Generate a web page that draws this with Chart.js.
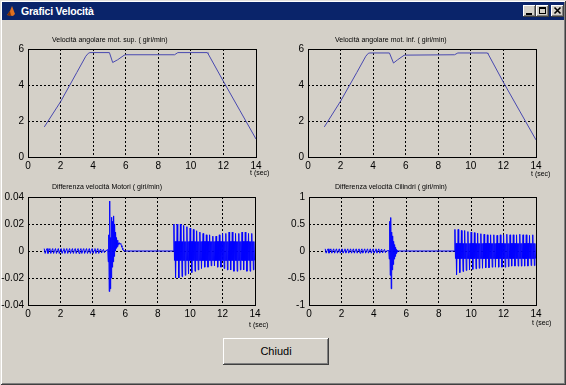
<!DOCTYPE html>
<html>
<head>
<meta charset="utf-8">
<script src="https://cdn.jsdelivr.net/npm/chart.js@4.4.1/dist/chart.umd.min.js"></script>
<style>
html, body { margin: 0; padding: 0; }
body { width: 566px; height: 385px; background: #d4d0c8; position: relative; overflow: hidden;
       font-family: "Liberation Sans", Arial, sans-serif; }
.frame { position: absolute; left: 0; top: 0; width: 566px; height: 385px; box-sizing: border-box;
         box-shadow: inset 1px 1px #e4e1dc, inset -1px -1px #404040, inset 2px 2px #fff, inset -2px -2px #808080; }
.titlebar { position: absolute; left: 2px; top: 2px; width: 562px; height: 18px; background: #0a246a; }
.ttext { position: absolute; left: 19px; top: 2px; color: #fff; font-weight: bold; font-size: 10.5px; line-height: 14px; letter-spacing: -0.2px; }
.icon { position: absolute; left: 4px; top: 3px; width: 10px; height: 12px; }
.tb { position: absolute; top: 3px; width: 13px; height: 12px; background: #d4d0c8;
      box-shadow: inset -1px -1px #404040, inset 1px 1px #fff, inset -2px -2px #808080; }
.tb svg { position: absolute; left: 0; top: 0; }
canvas { position: absolute; }
.lab { position: absolute; font-size: 7px; line-height: 8px; color: #000; white-space: nowrap; }
.btn { position: absolute; left: 223px; top: 338px; width: 106px; height: 27px; background: #d4d0c8;
       box-shadow: inset -1px -1px #404040, inset 1px 1px #fff, inset -2px -2px #808080;
       font-size: 11px; line-height: 27px; text-align: center; color: #000; }
</style>
</head>
<body>
<div class="frame"></div>
<div class="titlebar">
  <svg class="icon" viewBox="0 0 10 12"><path d="M1 10 L4 6 L6 1 L9 9 L7 11 Z" fill="#e07020"/><path d="M1 10 L4 6 L5 11 Z" fill="#803000"/></svg>
  <div class="ttext">Grafici Velocità</div>
  <div class="tb" style="left:521px"><svg width="13" height="12"><rect x="3" y="8" width="6" height="2" fill="#000"/></svg></div>
  <div class="tb" style="left:534px"><svg width="13" height="12"><rect x="3.5" y="2.5" width="6" height="6" fill="none" stroke="#000"/><rect x="3" y="2" width="7" height="2" fill="#000"/></svg></div>
  <div class="tb" style="left:549px"><svg width="13" height="12"><path d="M3.5 2.5 L9.5 8.5 M9.5 2.5 L3.5 8.5" stroke="#000" stroke-width="1.6"/></svg></div>
</div>

<canvas id="supChart" width="283" height="150" style="left:0;top:30px"></canvas>
<canvas id="infChart" width="283" height="150" style="left:283px;top:30px"></canvas>
<canvas id="motoriChart" width="283" height="150" style="left:0;top:180px"></canvas>
<canvas id="cilindriChart" width="283" height="150" style="left:283px;top:180px"></canvas>

<div class="lab" style="left:52px;top:36px">Velocità angolare mot. sup. ( giri/min)</div>
<div class="lab" style="left:335px;top:36px">Velocità angolare mot. inf. ( giri/min)</div>
<div class="lab" style="left:52px;top:183px">Differenza velocità Motori ( giri/min)</div>
<div class="lab" style="left:335px;top:183px">Differenza velocità Cilindri ( giri/min)</div>
<div class="lab" style="left:250px;top:169px">t (sec)</div>
<div class="lab" style="left:531px;top:170px">t (sec)</div>
<div class="lab" style="left:249px;top:321px">t (sec)</div>
<div class="lab" style="left:532px;top:319px">t (sec)</div>

<div class="btn">Chiudi</div>

<script>
// velocità angolare motore superiore
const supT = [1.0, 2.0, 3.0, 3.55, 3.7, 3.8, 5.0, 5.2, 5.5, 5.9, 6.0, 9.0, 9.2, 10.0, 11.0, 11.05, 12.0, 13.0, 14.0];
const supV = [1.67, 3.07, 4.7, 5.6, 5.76, 5.8, 5.8, 5.25, 5.4, 5.65, 5.68, 5.68, 5.8, 5.8, 5.8, 5.75, 4.2, 2.6, 1.0];

// velocità angolare motore inferiore
const infT = [1.0, 2.0, 3.0, 3.55, 3.7, 3.8, 5.0, 5.25, 5.5, 5.9, 6.0, 9.0, 9.2, 10.0, 11.0, 11.05, 12.0, 13.0, 14.0];
const infV = [1.67, 3.1, 4.7, 5.6, 5.76, 5.78, 5.78, 5.22, 5.4, 5.65, 5.66, 5.68, 5.78, 5.78, 5.78, 5.74, 4.15, 2.55, 0.95];

// differenza velocità motori: campioni a passo costante per tratti
const motoriQuietT0 = 1.0, motoriQuietDt = 0.058;
const motoriQuiet = [
  0.0018, -0.0018, 0.0003, 0.0018, -0.0018, 0.0003, 0.0018, -0.0018, 0.0003, 0.0018, -0.0018, 0.0003,
  0.0018, -0.0018, 0.0003, 0.0018, -0.0018, 0.0003, 0.0018, -0.0018, 0.0003, 0.0018, -0.0018, 0.0003,
  0.0018, -0.0018, 0.0003, 0.0018, -0.0018, 0.0003, 0.0018, -0.0018, 0.0003, 0.0018, -0.0018, 0.0003,
  0.0018, -0.0018, 0.0003, 0.0018, -0.0018, 0.0003, 0.0018, -0.0018, 0.0003, 0.0018, -0.0018, 0.0003,
  0.0018, -0.0018, 0.0003, 0.0018, -0.0018, 0.0003, 0.0018, -0.0018, 0.0003, 0.0018, -0.0018, 0.0003,
  0.0015, -0.0015, 0.0003, 0.0012, -0.0012, 0.0
];
const motoriSpikeT0 = 4.92, motoriSpikeDt = 0.03;
const motoriSpike = [
  0.001, -0.008, 0.012, -0.030, 0.037, -0.028, 0.010, -0.020, 0.025, -0.012,
  0.022, -0.008, 0.026, -0.004, 0.020, 0.000, 0.014, 0.002, 0.010, 0.003,
  0.008, 0.004, 0.006, 0.005, 0.006, 0.006, 0.0055, 0.005, 0.004, 0.003,
  0.002, 0.001, 0.0005, 0.0
];
const motoriFlatT = [6.0, 9.0];
const motoriFlat = [0.0, 0.0];
const motoriOscT0 = 9.0, motoriOscDt = 0.2 / 6;
const motoriPeak = [0.020, 0.020, 0.020, 0.019, 0.018, 0.017, 0.016, 0.015, 0.014, 0.013, 0.012, 0.012, 0.011,
                    0.011, 0.012, 0.013, 0.013, 0.014, 0.014, 0.013, 0.013, 0.014, 0.014, 0.013, 0.013];
const motoriTrough = [0.020, 0.020, 0.019, 0.018, 0.017, 0.016, 0.015, 0.014, 0.013, 0.012, 0.012, 0.011, 0.011,
                      0.012, 0.012, 0.013, 0.014, 0.014, 0.015, 0.015, 0.014, 0.014, 0.015, 0.015, 0.014];
const motoriCore = 0.007;

// differenza velocità cilindri
const cilindriQuietT0 = 1.0, cilindriQuietDt = 0.058;
const cilindriQuiet = [
  0.04, -0.04, 0.005, 0.04, -0.04, 0.005, 0.04, -0.04, 0.005, 0.04, -0.04, 0.005,
  0.04, -0.04, 0.005, 0.04, -0.04, 0.005, 0.04, -0.04, 0.005, 0.04, -0.04, 0.005,
  0.04, -0.04, 0.005, 0.04, -0.04, 0.005, 0.04, -0.04, 0.005, 0.04, -0.04, 0.005,
  0.04, -0.04, 0.005, 0.04, -0.04, 0.005, 0.04, -0.04, 0.005, 0.04, -0.04, 0.005,
  0.04, -0.04, 0.005, 0.04, -0.04, 0.005, 0.04, -0.04, 0.005, 0.04, -0.04, 0.005,
  0.035, -0.035, 0.005, 0.03, -0.03, 0.0
];
const cilindriSpikeT0 = 4.92, cilindriSpikeDt = 0.03;
const cilindriSpike = [
  0.01, -0.15, 0.55, -0.45, 0.62, -0.70, 0.35, -0.35, 0.28, -0.25,
  0.18, -0.15, 0.12, -0.10, 0.07, -0.05, 0.03, -0.02, 0.01, 0.0
];
const cilindriFlatT = [5.5, 9.0];
const cilindriFlat = [0.0, 0.0];
const cilindriOscT0 = 9.0, cilindriOscDt = 0.2 / 6;
const cilindriPeak = [0.40, 0.40, 0.38, 0.38, 0.36, 0.35, 0.34, 0.33, 0.32, 0.31, 0.30, 0.30, 0.30,
                      0.29, 0.30, 0.30, 0.31, 0.30, 0.30, 0.30, 0.31, 0.30, 0.30, 0.29, 0.30];
const cilindriTrough = [0.44, 0.40, 0.38, 0.36, 0.35, 0.34, 0.33, 0.32, 0.32, 0.31, 0.31, 0.30, 0.30,
                        0.30, 0.30, 0.30, 0.29, 0.28, 0.28, 0.28, 0.28, 0.28, 0.28, 0.27, 0.27];
const cilindriCore = 0.14;

const xTicks = [0, 2, 4, 6, 8, 10, 12, 14];

function pairs(ts, vs) {
    return vs.map((v, i) => ({ x: ts[i], y: v }));
}
function sampled(t0, dt, vs) {
    return vs.map((v, i) => ({ x: t0 + i * dt, y: v }));
}
// ogni ciclo: picco, nucleo, valle, nucleo
function oscillation(t0, dt, peaks, troughs, core) {
    const vals = [];
    peaks.forEach((p, i) => { vals.push(p, -core, core, -troughs[i], core, -core); });
    return sampled(t0, dt, vals);
}

const boxPlugin = {
    id: 'box',
    afterDraw(chart) {
        const a = chart.chartArea, c = chart.ctx;
        c.save();
        c.strokeStyle = '#000';
        c.lineWidth = 1;
        c.strokeRect(a.left + 0.5, a.top + 0.5, a.right - a.left, a.bottom - a.top);
        c.restore();
    }
};

function creaGrafico(id, punti, colore, y, layout) {
    const ctx = document.getElementById(id).getContext('2d');
    return new Chart(ctx, {
        type: 'line',
        data: {
            datasets: [{
                data: punti,
                borderColor: colore,
                borderWidth: 1,
                pointRadius: 0,
                tension: 0,
                fill: false
            }]
        },
        options: {
            responsive: false,
            animation: false,
            devicePixelRatio: 1,
            events: [],
            layout: { padding: { left: 0, top: layout.top, right: layout.right, bottom: 0 } },
            plugins: { legend: { display: false }, tooltip: { enabled: false } },
            scales: {
                x: {
                    type: 'linear', min: 0, max: 14,
                    afterFit: (ax) => { ax.height = layout.xh; },
                    afterBuildTicks: (ax) => { ax.ticks = xTicks.map(v => ({ value: v })); },
                    grid: { color: '#000', drawTicks: false, lineWidth: 1 },
                    border: { display: false, dash: [2, 2] },
                    ticks: { color: '#000', padding: 3, maxRotation: 0, autoSkip: false,
                             font: { family: 'Liberation Sans', size: 10 } }
                },
                y: {
                    type: 'linear', min: y.min, max: y.max,
                    afterFit: (ax) => { ax.width = layout.yw; },
                    afterBuildTicks: (ax) => { ax.ticks = y.ticks.map(v => ({ value: v })); },
                    grid: { color: '#000', drawTicks: false, lineWidth: 1 },
                    border: { display: false, dash: [2, 2] },
                    ticks: { color: '#000', padding: 4, autoSkip: false,
                             font: { family: 'Liberation Sans', size: 10 },
                             callback: (v) => y.labels[y.ticks.indexOf(v)] }
                }
            }
        },
        plugins: [boxPlugin]
    });
}

const yVel = { min: 0, max: 6, ticks: [0, 2, 4, 6], labels: ['0', '2', '4', '6'] };
const yMot = { min: -0.04, max: 0.04, ticks: [-0.04, -0.02, 0, 0.02, 0.04], labels: ['-0.04', '-0.02', '0', '0.02', '0.04'] };
const yCil = { min: -1, max: 1, ticks: [-1, -0.5, 0, 0.5, 1], labels: ['-1', '-0.5', '0', '0.5', '1'] };

creaGrafico('supChart', pairs(supT, supV), '#4848b0', yVel, { top: 19, right: 27, yw: 28, xh: 23 });
creaGrafico('infChart', pairs(infT, infV), '#4848b0', yVel, { top: 19, right: 30, yw: 25, xh: 23 });

const motoriPunti = [].concat(
    sampled(motoriQuietT0, motoriQuietDt, motoriQuiet),
    sampled(motoriSpikeT0, motoriSpikeDt, motoriSpike),
    pairs(motoriFlatT, motoriFlat),
    oscillation(motoriOscT0, motoriOscDt, motoriPeak, motoriTrough, motoriCore)
);
const cilindriPunti = [].concat(
    sampled(cilindriQuietT0, cilindriQuietDt, cilindriQuiet),
    sampled(cilindriSpikeT0, cilindriSpikeDt, cilindriSpike),
    pairs(cilindriFlatT, cilindriFlat),
    oscillation(cilindriOscT0, cilindriOscDt, cilindriPeak, cilindriTrough, cilindriCore)
);
creaGrafico('motoriChart', motoriPunti, '#0000ff', yMot, { top: 17, right: 28, yw: 28, xh: 25 });
creaGrafico('cilindriChart', cilindriPunti, '#0000ff', yCil, { top: 17, right: 30, yw: 26, xh: 25 });
</script>
</body>
</html>
